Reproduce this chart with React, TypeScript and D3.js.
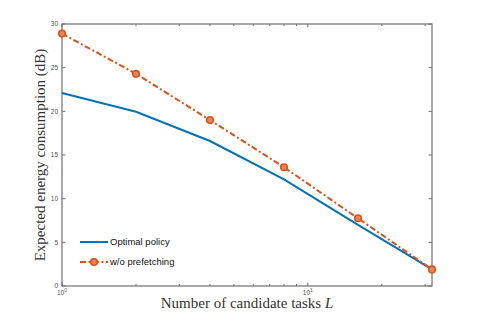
import React from "react";
import * as d3 from "d3";

const tasksL = [1, 2, 4, 8, 16, 32];
const optimalPolicy = [22.1, 19.95, 16.6, 12.2, 7.0, 1.9];
const withoutPrefetching = [28.9, 24.3, 19.0, 13.6, 7.75, 1.9];
const yTicks = [0, 5, 10, 15, 20, 25, 30];
const seriesNames = ["Optimal policy", "w/o prefetching"];

const W = 478, H = 321;
const m = { left: 62, right: 46, top: 24, bottom: 35 };
const BLUE = "#0072BD", ORANGE = "#D95319", AX = "#6e6e6e";

export default function App() {
  const x = d3.scaleLog().domain([1, 32]).range([m.left, W - m.right]);
  const y = d3.scaleLinear().domain([0, 30]).range([H - m.bottom, m.top]);
  const line = d3.line<number>().x((_, i) => x(tasksL[i])).y((d) => y(d));
  const minor = [2, 3, 4, 5, 6, 7, 8, 9, 20, 30];
  const x0 = m.left, x1 = W - m.right, y0 = H - m.bottom, y1 = m.top;
  const tf = "Liberation Sans, Arial, sans-serif";
  const sf = "Liberation Serif, Times New Roman, serif";
  return (
    <svg width={W} height={H} style={{ position: "absolute", left: 0, top: 0 }}>
      <rect x={0} y={0} width={W} height={H} fill="#fff" />
      {yTicks.map((t) => (
        <g key={"y" + t}>
          <line x1={x0} x2={x0 + 3.5} y1={y(t)} y2={y(t)} stroke={AX} />
          <line x1={x1} x2={x1 - 3.5} y1={y(t)} y2={y(t)} stroke={AX} />
          <text x={x0 - 4} y={y(t)} dy="0.35em" textAnchor="end" fontSize={6.5} fill="#555" fontFamily={tf}>{t}</text>
        </g>
      ))}
      {minor.map((t) => (
        <g key={"m" + t}>
          <line x1={x(t)} x2={x(t)} y1={y0} y2={y0 - 2} stroke={AX} />
          <line x1={x(t)} x2={x(t)} y1={y1} y2={y1 + 2} stroke={AX} />
        </g>
      ))}
      {[1, 10].map((t) => (
        <g key={"M" + t}>
          <line x1={x(t)} x2={x(t)} y1={y0} y2={y0 - 3.5} stroke={AX} />
          <line x1={x(t)} x2={x(t)} y1={y1} y2={y1 + 3.5} stroke={AX} />
          <text x={x(t)} y={y0 + 8.5} textAnchor="middle" fontSize={6.5} fill="#555" fontFamily={tf}>
            10<tspan dy={-3} fontSize={5}>{t === 1 ? 0 : 1}</tspan>
          </text>
        </g>
      ))}
      <rect x={x0} y={y1} width={x1 - x0} height={y0 - y1} fill="none" stroke={AX} strokeWidth={1.2} />
      <path d={line(optimalPolicy) || ""} fill="none" stroke={BLUE} strokeWidth={2} />
      <path d={line(withoutPrefetching) || ""} fill="none" stroke={ORANGE} strokeWidth={2} strokeDasharray="6 2.5 2 2.5" />
      {withoutPrefetching.map((d, i) => (
        <circle key={i} cx={x(tasksL[i])} cy={y(d)} r={3.3} fill="#e8845a" stroke={ORANGE} strokeWidth={1.6} />
      ))}
      <line x1={80} x2={108} y1={242} y2={242} stroke={BLUE} strokeWidth={2} />
      <text x={110} y={242} dy="0.35em" fontSize={9.5} fontFamily={tf} fill="#111">{seriesNames[0]}</text>
      <line x1={80} x2={108} y1={262} y2={262} stroke={ORANGE} strokeWidth={2} strokeDasharray="6 2.5 2 2.5" />
      <circle cx={94} cy={262} r={3.3} fill="#e8845a" stroke={ORANGE} strokeWidth={1.6} />
      <text x={110} y={262} dy="0.35em" fontSize={9.5} fontFamily={tf} fill="#111">{seriesNames[1]}</text>
      <text x={(x0 + x1) / 2} y={308} textAnchor="middle" fontSize={15} fontFamily={sf} fill="#333">
        Number of candidate tasks <tspan fontStyle="italic">L</tspan>
      </text>
      <text transform={`translate(45,${(y0 + y1) / 2}) rotate(-90)`} textAnchor="middle" fontSize={15} fontFamily={sf} fill="#333">
        Expected energy consumption (dB)
      </text>
    </svg>
  );
}
